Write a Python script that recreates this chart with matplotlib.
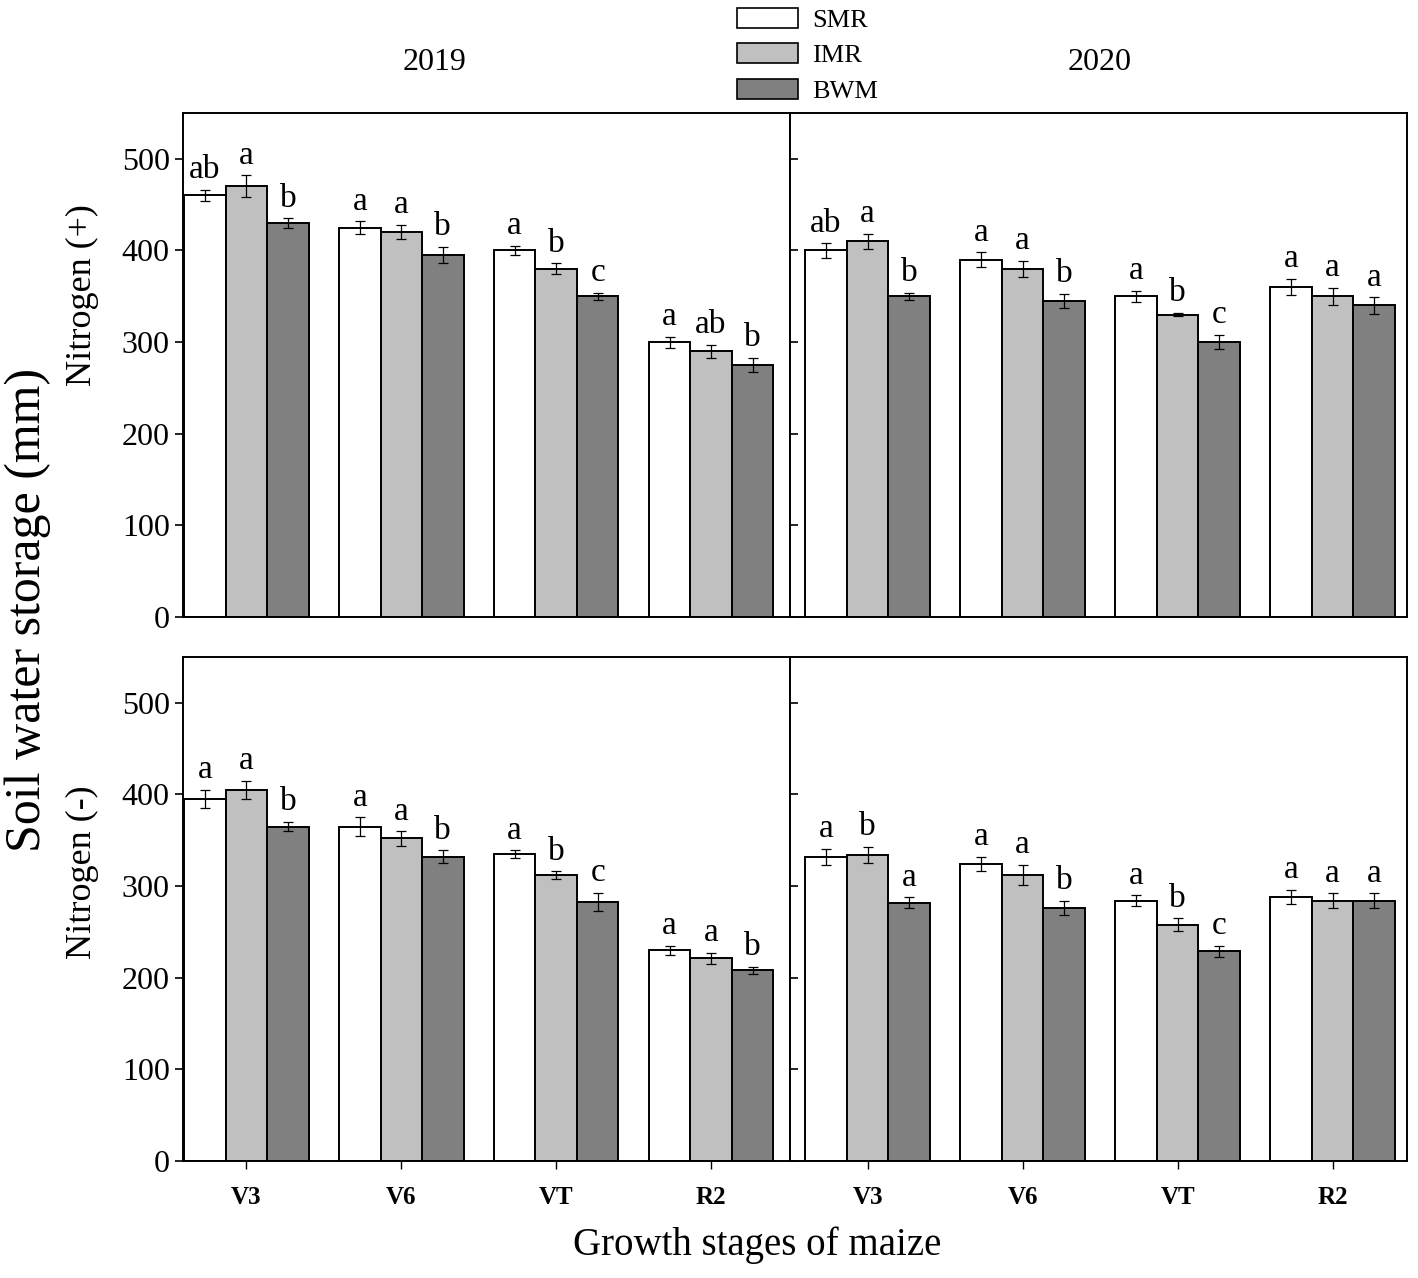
import numpy as np
import matplotlib
matplotlib.use("Agg")
import matplotlib.pyplot as plt
from matplotlib.patches import Patch

plt.rcParams['font.family'] = ['Liberation Serif', 'DejaVu Serif']

stages = ['V3', 'V6', 'VT', 'R2']
treatments = ['SMR', 'IMR', 'BWM']
colors = ['#ffffff', '#c0c0c0', '#808080']

# soil water storage (mm): rows = SMR, IMR, BWM ; columns = stages
n_plus_2019 = [[460, 425, 400, 300],
               [470, 420, 380, 290],
               [430, 395, 350, 275]]
n_plus_2019_err = [[6, 7, 5, 6],
                   [12, 8, 6, 7],
                   [5, 9, 4, 8]]
n_plus_2019_sig = [['ab', 'a', 'a', 'a'],
                   ['a', 'a', 'b', 'ab'],
                   ['b', 'b', 'c', 'b']]

n_plus_2020 = [[400, 390, 350, 360],
               [410, 380, 330, 350],
               [350, 345, 300, 340]]
n_plus_2020_err = [[8, 8, 6, 9],
                   [8, 9, 2, 9],
                   [4, 8, 8, 9]]
n_plus_2020_sig = [['ab', 'a', 'a', 'a'],
                   ['a', 'a', 'b', 'a'],
                   ['b', 'b', 'c', 'a']]

n_minus_2019 = [[395, 365, 335, 230],
                [405, 352, 312, 221],
                [365, 332, 283, 208]]
n_minus_2019_err = [[10, 10, 4, 5],
                    [10, 8, 4, 6],
                    [5, 7, 10, 4]]
n_minus_2019_sig = [['a', 'a', 'a', 'a'],
                    ['a', 'a', 'b', 'a'],
                    ['b', 'b', 'c', 'b']]

n_minus_2020 = [[332, 324, 284, 288],
                [334, 312, 258, 284],
                [282, 276, 229, 284]]
n_minus_2020_err = [[9, 8, 6, 8],
                    [9, 11, 7, 8],
                    [6, 8, 6, 8]]
n_minus_2020_sig = [['a', 'a', 'a', 'a'],
                    ['b', 'a', 'b', 'a'],
                    ['a', 'b', 'c', 'a']]

W, H = 1418, 1278
fig = plt.figure(figsize=(W / 100, H / 100), dpi=100)


def fx(px):
    return px / W


def fy(py):
    return 1 - py / H


ax_tl = fig.add_axes([fx(183), fy(617), fx(790) - fx(183), fy(113) - fy(617)])
ax_tr = fig.add_axes([fx(790), fy(617), fx(1407) - fx(790), fy(113) - fy(617)])
ax_bl = fig.add_axes([fx(183), fy(1161), fx(790) - fx(183), fy(657) - fy(1161)])
ax_br = fig.add_axes([fx(790), fy(1161), fx(1407) - fx(790), fy(657) - fy(1161)])

panels = [
    (ax_tl, n_plus_2019, n_plus_2019_err, n_plus_2019_sig, True, False),
    (ax_tr, n_plus_2020, n_plus_2020_err, n_plus_2020_sig, False, False),
    (ax_bl, n_minus_2019, n_minus_2019_err, n_minus_2019_sig, True, True),
    (ax_br, n_minus_2020, n_minus_2020_err, n_minus_2020_sig, False, True),
]

x = np.arange(len(stages))
width = 0.268

for ax, vals, errs, sigs, is_left, is_bottom in panels:
    for i in range(3):
        xpos = x + (i - 1) * width
        ax.bar(xpos, vals[i], width, color=colors[i], edgecolor='black', linewidth=1.4, zorder=2)
        ax.errorbar(xpos, vals[i], yerr=errs[i], fmt='none', ecolor='black',
                    elinewidth=0.9, capsize=3.5, capthick=0.9, zorder=3)
        for j in range(len(stages)):
            ax.text(xpos[j], vals[i][j] + errs[i][j] + 5, sigs[i][j],
                    ha='center', va='bottom', fontsize=24)
    ax.set_ylim(0, 550)
    ax.set_yticks([0, 100, 200, 300, 400, 500])
    if is_left:
        ax.set_xlim(-0.41, 3.51)
        ax.tick_params(axis='y', direction='out', length=6, width=1.2, labelsize=23)
    else:
        ax.set_xlim(-0.50, 3.48)
        ax.tick_params(axis='y', direction='in', length=6, width=1.2, labelleft=False)
    ax.set_xticks(x)
    if is_bottom:
        ax.set_xticklabels(stages, fontsize=18, fontweight='bold')
        ax.tick_params(axis='x', direction='out', length=6, width=1.0, pad=12)
    else:
        ax.tick_params(axis='x', length=0, labelbottom=False)
    for s in ax.spines.values():
        s.set_linewidth(1.4)

fig.text(fx(435), fy(62), '2019', ha='center', va='center', fontsize=23)
fig.text(fx(1100), fy(62), '2020', ha='center', va='center', fontsize=23)
fig.text(fx(82), fy(295), 'Nitrogen (+)', rotation=90, ha='center', va='center', fontsize=26)
fig.text(fx(82), fy(872), 'Nitrogen (-)', rotation=90, ha='center', va='center', fontsize=26)
fig.text(fx(28), fy(610), 'Soil water storage (mm)', rotation=90, ha='center', va='center', fontsize=36)
fig.text(fx(757), fy(1245), 'Growth stages of maize', ha='center', va='center', fontsize=28)

handles = [Patch(facecolor=colors[i], edgecolor='black', linewidth=1.2, label=treatments[i]) for i in range(3)]
fig.legend(handles=handles, loc='upper left', bbox_to_anchor=(fx(721), fy(-8)), frameon=False,
           fontsize=19, handlelength=2.3, handleheight=0.8, labelspacing=0.42, handletextpad=0.55,
           borderpad=0.1)

fig.savefig('out.png', dpi=100)
